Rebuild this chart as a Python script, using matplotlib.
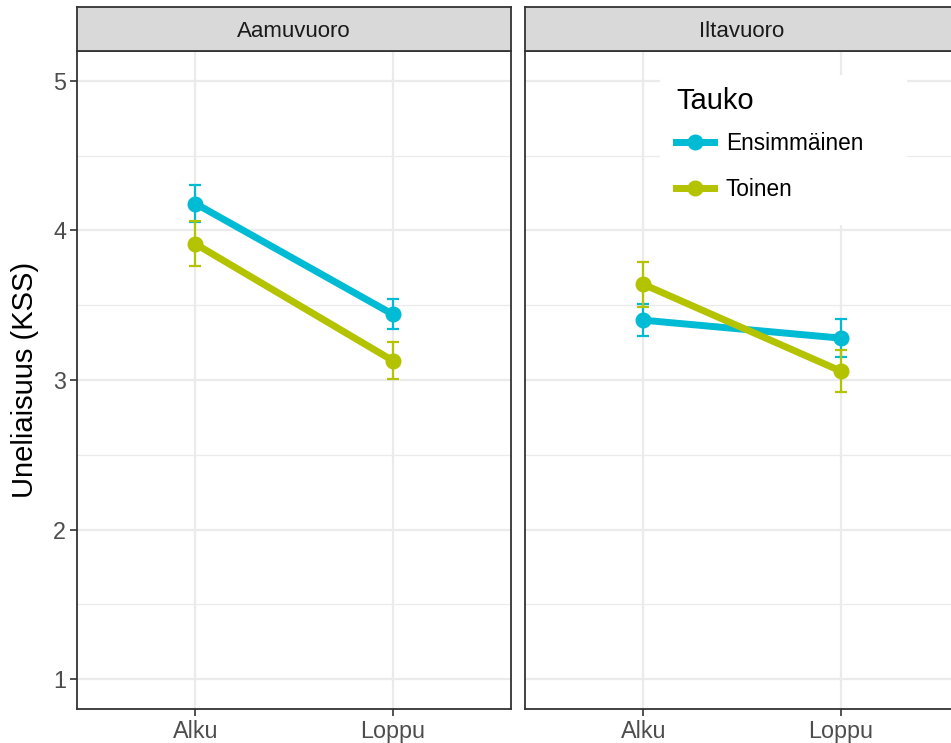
import matplotlib
matplotlib.use("Agg")
import matplotlib.pyplot as plt
from matplotlib.lines import Line2D
from matplotlib.patches import Rectangle
from matplotlib.ticker import MultipleLocator

plt.rcParams["font.family"] = ["Liberation Sans", "DejaVu Sans"]

panels = ["Aamuvuoro", "Iltavuoro"]
times = ["Alku", "Loppu"]
groups = ["Ensimmäinen", "Toinen"]
colors = {"Ensimmäinen": "#00BBD4", "Toinen": "#B4C300"}

# means and standard errors per panel, per break group (Alku, Loppu)
means = {
    "Aamuvuoro": {"Ensimmäinen": [4.18, 3.44], "Toinen": [3.91, 3.13]},
    "Iltavuoro": {"Ensimmäinen": [3.40, 3.28], "Toinen": [3.64, 3.06]},
}
errors = {
    "Aamuvuoro": {"Ensimmäinen": [0.125, 0.10], "Toinen": [0.15, 0.125]},
    "Iltavuoro": {"Ensimmäinen": [0.105, 0.125], "Toinen": [0.15, 0.14]},
}

W, H = 951, 743
fig = plt.figure(figsize=(W / 100, H / 100), dpi=100)

panel_left = [77, 525]
panel_w = 434
top, bottom = 51, 709
strip_top = 7

dark = "#333333"
for i, panel in enumerate(panels):
    ax = fig.add_axes([panel_left[i] / W, (H - bottom) / H,
                       panel_w / W, (bottom - top) / H])
    xs = list(range(len(times)))
    for g in groups:
        ax.errorbar(xs, means[panel][g], yerr=errors[panel][g], color=colors[g],
                    lw=5, marker="o", ms=10.5, elinewidth=1.6, capsize=4,
                    capthick=1.6, zorder=3)
    ax.set_xlim(-0.6, 1.6)
    ax.set_ylim(0.8, 5.2)
    ax.set_xticks(xs)
    ax.set_xticklabels(times)
    ax.yaxis.set_major_locator(MultipleLocator(1))
    ax.yaxis.set_minor_locator(MultipleLocator(0.5))
    ax.grid(True, which="major", color="#EBEBEB", lw=1.6, zorder=0)
    ax.grid(True, which="minor", axis="y", color="#EBEBEB", lw=0.9, zorder=0)
    ax.set_axisbelow(True)
    for s in ax.spines.values():
        s.set_color(dark)
        s.set_linewidth(1.3)
    ax.tick_params(axis="both", which="major", length=5, width=1.2, color=dark,
                   labelcolor="#4D4D4D", labelsize=16.8, pad=3)
    ax.tick_params(axis="y", which="minor", length=0)
    if i == 0:
        ax.set_ylabel("Uneliaisuus (KSS)", fontsize=21, labelpad=10)
    else:
        ax.set_yticklabels([])
        ax.tick_params(axis="y", which="major", length=0)

    # facet strip
    sax = fig.add_axes([panel_left[i] / W, (H - top) / H,
                        panel_w / W, (top - strip_top) / H])
    sax.set_facecolor("#D9D9D9")
    sax.set_xticks([])
    sax.set_yticks([])
    for s in sax.spines.values():
        s.set_color(dark)
        s.set_linewidth(1.3)
    sax.text(0.5, 0.45, panel, ha="center", va="center", fontsize=16,
             color="#1A1A1A", transform=sax.transAxes)

    if i == 1:
        # white legend background inside the panel
        ax.add_patch(Rectangle((660 / W, 1 - 225 / H), 247 / W, 150 / H,
                               transform=fig.transFigure, facecolor="white",
                               edgecolor="none", zorder=4, clip_on=False))
        fig.text(676 / W, 1 - 101 / H, "Tauko", fontsize=21, va="center",
                 ha="left", zorder=6)
        handles = [Line2D([], [], color=colors[g], lw=5, marker="o", ms=10.5)
                   for g in groups]
        leg = ax.legend(handles, groups, loc="upper left",
                        bbox_to_anchor=(676 / W, 1 - 132 / H),
                        bbox_transform=fig.transFigure,
                        fontsize=16.3, frameon=False,
                        handlelength=1.7, handletextpad=0.5,
                        labelspacing=1.0, borderpad=0, borderaxespad=0)
        leg.set_zorder(5)

fig.savefig("out.png", dpi=100)
